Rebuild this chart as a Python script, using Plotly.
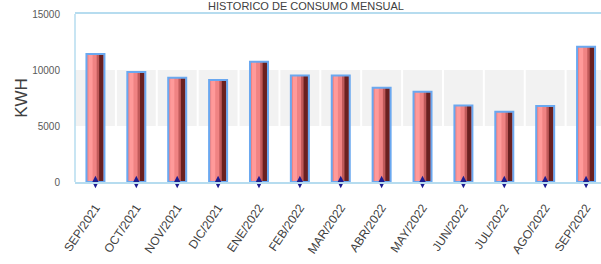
import plotly.graph_objects as go

months = ["SEP/2021", "OCT/2021", "NOV/2021", "DIC/2021", "ENE/2022", "FEB/2022",
          "MAR/2022", "ABR/2022", "MAY/2022", "JUN/2022", "JUL/2022", "AGO/2022", "SEP/2022"]
kwh = [11430, 9820, 9310, 9100, 10740, 9520, 9500, 8420, 8060, 6820, 6280, 6790, 12080]
y_ticks = [0, 5000, 10000, 15000]
y_tick_labels = ["0", "5000", "10000", "15000"]
title_text = "HISTORICO DE CONSUMO MENSUAL"

x_idx = list(range(len(months)))
n = len(months)

fig = go.Figure()

# bar body with simulated cylinder shading
layers = [
    (-0.22, 0.44, "#f08383"),
    (-0.17, 0.10, "#ff9a9a"),
    (0.03, 0.07, "#c05a5a"),
    (0.09, 0.11, "#6a2020"),
]
for off, w, col in layers:
    fig.add_trace(go.Bar(x=x_idx, y=kwh, offset=off, width=w,
                         marker=dict(color=col, line=dict(width=0)),
                         hoverinfo="skip", showlegend=False))
# blue outline on top
fig.add_trace(go.Bar(x=x_idx, y=kwh, offset=-0.22, width=0.44,
                     marker=dict(color="rgba(0,0,0,0)", line=dict(color="#6aa8f0", width=2)),
                     hoverinfo="skip", showlegend=False))

# small markers at the base
fig.add_trace(go.Scatter(x=x_idx, y=[0] * n, mode="markers",
                         marker=dict(symbol="diamond-tall", size=9, color="#1c1c90"),
                         cliponaxis=False, hoverinfo="skip", showlegend=False))

shapes = [dict(type="rect", xref="paper", yref="y", x0=0, x1=1, y0=5000, y1=10000,
               fillcolor="#f2f2f2", line=dict(width=0), layer="below")]
for i in range(n - 1):
    shapes.append(dict(type="line", xref="x", yref="y", x0=i + 0.5, x1=i + 0.5,
                       y0=5000, y1=10000, line=dict(color="white", width=2), layer="below"))
# left frame line
shapes.append(dict(type="line", xref="paper", yref="paper", x0=0, x1=0, y0=0, y1=1,
                   line=dict(color="#b6dcef", width=1.5), layer="above"))

fig.update_layout(
    width=620, height=264,
    margin=dict(l=75, r=0, t=14, b=82),
    paper_bgcolor="white", plot_bgcolor="white",
    barmode="overlay",
    shapes=shapes,
    font=dict(family="Liberation Sans, Arial, sans-serif"),
    annotations=[dict(text=title_text, xref="paper", yref="paper", x=0.423, y=1.0 + 8 / 168,
                      xanchor="center", yanchor="middle", showarrow=False,
                      font=dict(size=11, color="#404040"))],
)
fig.update_xaxes(
    range=[-0.5, 12.83], automargin=False,
    tickmode="array", tickvals=x_idx, ticktext=months,
    tickangle=-56, tickfont=dict(size=12, color="#404040"),
    showgrid=False, showline=True, linecolor="#b6dcef", linewidth=2, mirror=True,
    ticks="", ticklabelstandoff=12, zeroline=False,
)
fig.update_yaxes(
    range=[0, 15000], automargin=False,
    tickmode="array", tickvals=y_ticks, ticktext=y_tick_labels,
    tickfont=dict(size=10, color="#595959"),
    showgrid=False, showline=False, mirror=False,
    zeroline=False, ticks="", ticklabelstandoff=14,
    title=dict(text="KWH", font=dict(size=17, color="#404040"), standoff=0),
)

fig.write_html("out.html", config={"displayModeBar": False},
               post_script="document.body.style.margin='0';document.body.style.overflow='hidden';")
